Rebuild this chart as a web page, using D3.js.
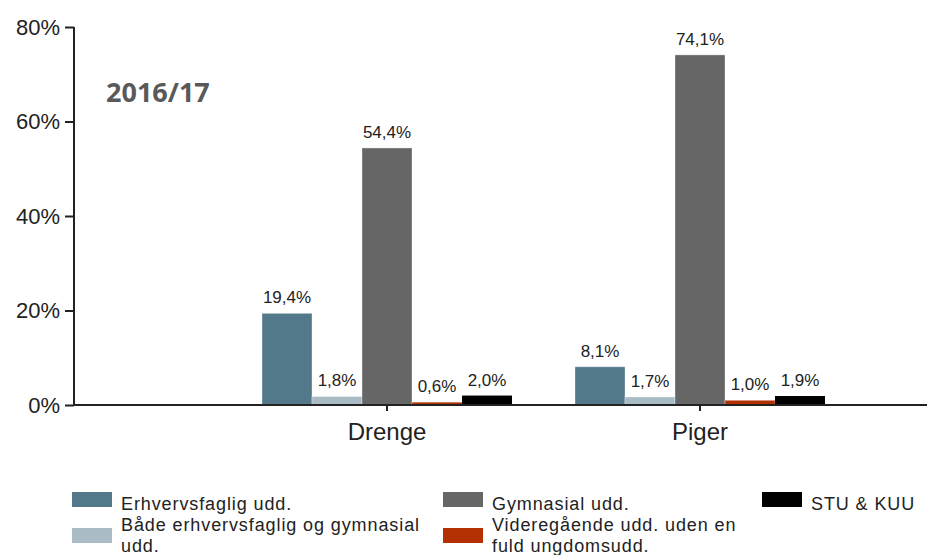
<!DOCTYPE html>
<html lang="da">
<head>
    <meta charset="UTF-8">
    <title>2016/17</title>
    <script src="https://d3js.org/d3.v7.min.js"></script>
    <style>
        body { margin: 0; background: #fff; }
        svg { display: block; }
        text { font-family: "Liberation Sans", Arial, sans-serif; }
        .tick text { font-size: 22px; fill: #222; }
        .cat .tick text { font-size: 24px; }
        .val { font-size: 17px; fill: #222; }
        .legend text { font-size: 18px; fill: #222; letter-spacing: 0.9px; }
        .title { font-family: "Open Sans", sans-serif; font-weight: bold; font-size: 27px; fill: #595959; }
    </style>
</head>
<body>
<script>
    const groups = ["Drenge", "Piger"];
    const series = ["Erhvervsfaglig udd.", "Både erhvervsfaglig og gymnasial udd.", "Gymnasial udd.",
                    "Videregående udd. uden en fuld ungdomsudd.", "STU & KUU"];
    const colors = ["#53788a", "#a9bcc5", "#666666", "#b33000", "#000000"];
    const drenge = [19.4, 1.8, 54.4, 0.6, 2.0];
    const piger = [8.1, 1.7, 74.1, 1.0, 1.9];
    const yTicks = [0, 20, 40, 60, 80];

    const width = 927, height = 555;
    const svg = d3.select("body").append("svg")
        .attr("width", width).attr("height", height);

    const y = d3.scaleLinear().domain([0, 80]).range([405, 27]);
    const x = d3.scaleBand().domain(groups).range([230.5, 856.5]);
    const xs = d3.scaleBand().domain(d3.range(series.length)).range([0, 250]);

    const rows = groups.map((g, i) => ({ group: g, values: i === 0 ? drenge : piger }));

    // bars
    const gGroups = svg.selectAll("g.grp").data(rows).enter().append("g")
        .attr("class", "grp")
        .attr("transform", d => `translate(${x(d.group) + x.bandwidth() / 2 - 125},0)`);

    gGroups.selectAll("rect").data(d => d.values).enter().append("rect")
        .attr("x", (d, i) => xs(i))
        .attr("width", xs.bandwidth())
        .attr("y", d => y(d))
        .attr("height", d => y(0) - y(d))
        .attr("fill", (d, i) => colors[i])
        .attr("stroke", (d, i) => i === 4 ? "none" : "#ffffff")
        .attr("stroke-opacity", 0.35)
        .attr("stroke-width", 1);

    gGroups.selectAll("text.val").data(d => d.values).enter().append("text")
        .attr("class", "val")
        .attr("x", (d, i) => xs(i) + xs.bandwidth() / 2)
        .attr("y", d => y(d) - 10)
        .attr("text-anchor", "middle")
        .text(d => d.toFixed(1).replace(".", ",") + "%");

    // y axis
    const yAxis = svg.append("g")
        .attr("transform", "translate(74,0)")
        .call(d3.axisLeft(y).tickValues(yTicks).tickFormat(d => d + "%").tickSize(9).tickPadding(5));
    yAxis.selectAll("path, line").attr("stroke", "#222").attr("stroke-width", 2);
    yAxis.select(".domain").attr("d", `M0,${y(80)}V${y(0) + 1}`);

    // x axis
    const xAxis = svg.append("g").attr("class", "cat")
        .attr("transform", `translate(0,${y(0)})`)
        .call(d3.axisBottom(x).tickSize(6).tickPadding(12));
    xAxis.selectAll("path, line").attr("stroke", "#222").attr("stroke-width", 2);
    xAxis.select(".domain").attr("d", `M73,0H${width}`);

    // title
    svg.append("text").attr("class", "title")
        .attr("x", 106).attr("y", 102)
        .text("2016/17");

    // legend
    const legend = [
        { i: 0, x: 72, y: 492, lines: ["Erhvervsfaglig udd."] },
        { i: 1, x: 72, y: 528, lines: ["Både erhvervsfaglig og gymnasial", "udd."] },
        { i: 2, x: 443, y: 492, lines: ["Gymnasial udd."] },
        { i: 3, x: 443, y: 528, lines: ["Videregående udd. uden en", "fuld ungdomsudd."] },
        { i: 4, x: 762, y: 492, lines: ["STU & KUU"] }
    ];
    const lg = svg.append("g").attr("class", "legend")
        .selectAll("g").data(legend).enter().append("g")
        .attr("transform", d => `translate(${d.x},${d.y})`);
    lg.append("rect")
        .attr("width", 40)
        .attr("height", 15)
        .attr("fill", d => colors[d.i]);
    lg.append("text")
        .attr("x", 49)
        .attr("y", d => d.lines.length > 1 ? 0 : 15)
        .selectAll("tspan").data(d => d.lines).enter().append("tspan")
        .attr("x", 49)
        .attr("dy", (d, i) => i === 0 ? 3 : 21)
        .text(d => d);
</script>
</body>
</html>
